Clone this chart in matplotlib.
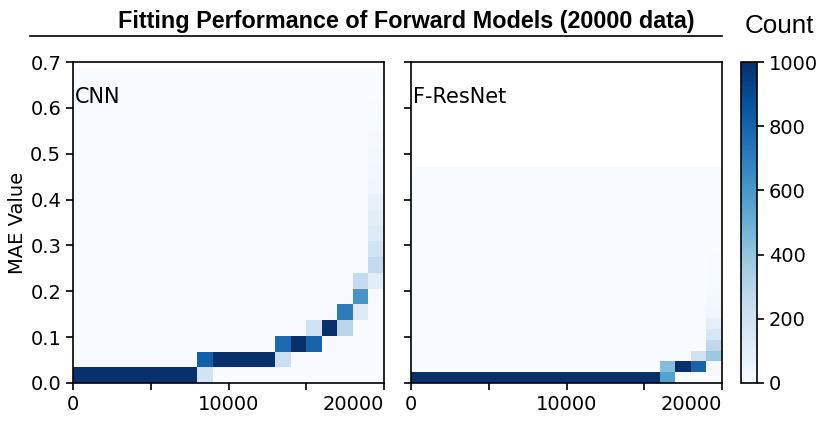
import numpy as np
import matplotlib
matplotlib.use('Agg')
import matplotlib.pyplot as plt
from matplotlib.lines import Line2D

plt.rcParams['font.family'] = ['DejaVu Sans']

# 20000 samples sorted by MAE, 20 x-bins (1000 samples each) and 20 y-bins
n_samples = 20000
n_bins = 20

# CNN: (x-bin, y-bin, count) for the non-empty cells
cnn_col = [0, 1, 2, 3, 4, 5, 6, 7, 8, 8, 9, 10, 11, 12, 13, 13, 14, 15, 15, 16,
           17, 17, 18, 18, 18, 19, 19, 19, 19, 19, 19, 19, 19, 19, 19, 19, 19, 19, 19]
cnn_row = [0, 0, 0, 0, 0, 0, 0, 0, 0, 1, 1, 1, 1, 1, 1, 2, 2, 2, 3, 3,
           3, 4, 4, 5, 6, 6, 7, 8, 9, 10, 11, 12, 13, 14, 15, 16, 17, 18, 19]
cnn_count = [1000, 1000, 1000, 1000, 1000, 1000, 1000, 1000, 180, 820, 1000, 1000, 1000, 1000,
             220, 780, 1000, 800, 200, 1000, 290, 710, 140, 610, 250,
             110, 260, 190, 140, 100, 75, 40, 30, 20, 15, 10, 5, 3, 2]
cnn_mae_max = 0.686

# F-ResNet
res_col = [0, 1, 2, 3, 4, 5, 6, 7, 8, 9, 10, 11, 12, 13, 14, 15, 16, 16, 17, 18, 18,
           19, 19, 19, 19, 19, 19, 19, 19, 19, 19, 19, 19, 19, 19, 19, 19, 19, 19]
res_row = [0, 0, 0, 0, 0, 0, 0, 0, 0, 0, 0, 0, 0, 0, 0, 0, 0, 1, 1, 1, 2,
           2, 3, 4, 5, 6, 7, 8, 9, 10, 11, 12, 13, 14, 15, 16, 17, 18, 19]
res_count = [1000] * 16 + [560, 440, 1000, 800, 200,
                           380, 270, 160, 90, 40, 20, 12, 8, 5, 4, 3, 2, 1, 1, 1, 1, 1, 1]
res_mae_max = 0.471

panels = [('CNN', cnn_col, cnn_row, cnn_count, cnn_mae_max),
          ('F-ResNet', res_col, res_row, res_count, res_mae_max)]

W, H = 830, 425
fig = plt.figure(figsize=(W / 100, H / 100), dpi=100)


def px_axes(left, top, right, bottom):
    return fig.add_axes([left / W, 1 - bottom / H, (right - left) / W, (bottom - top) / H])


axes = [px_axes(73, 62, 384, 383), px_axes(411, 62, 722, 383)]
cax = px_axes(741, 62, 757, 383)

mesh = None
for ax, (name, cols, rows, counts, mae_max) in zip(axes, panels):
    grid = np.zeros((n_bins, n_bins))
    for c, r, v in zip(cols, rows, counts):
        grid[r, c] = v
    xedges = np.linspace(0, n_samples, n_bins + 1)
    yedges = np.linspace(0, mae_max, n_bins + 1)
    mesh = ax.pcolormesh(xedges, yedges, grid, cmap='Blues', vmin=0, vmax=1000)
    ax.set_xlim(0, n_samples)
    ax.set_ylim(0, 0.7)
    ax.set_xticks([0, 5000, 10000, 15000, 20000])
    ax.set_xticklabels(['0', '', '10000', '', '20000'])
    # last label sits left of its tick so it clears the next panel
    ax.get_xticklabels()[-1].set_horizontalalignment('right')
    ax.set_yticks(np.arange(0, 0.71, 0.1))
    ax.tick_params(labelsize=14, length=5, width=1.2)
    for s in ax.spines.values():
        s.set_linewidth(1.2)
    ax.text(0.006, 0.891, name, transform=ax.transAxes, fontsize=15,
            ha='left', va='center')

axes[0].set_yticklabels(['%.1f' % v for v in np.arange(0, 0.71, 0.1)])
axes[0].set_ylabel('MAE Value', fontsize=14, labelpad=2)
axes[1].set_yticklabels([])

cb = fig.colorbar(mesh, cax=cax, ticks=[0, 200, 400, 600, 800, 1000])
cb.ax.tick_params(labelsize=14, length=5, width=1.2)
cb.outline.set_linewidth(1.2)

fig.text(745 / W, 1 - 33 / H, 'Count', fontsize=18.7, family='Liberation Sans',
         ha='left', va='baseline')
fig.text(406 / W, 1 - 28 / H, 'Fitting Performance of Forward Models (20000 data)',
         fontsize=16.8, family='Liberation Sans', fontweight='bold',
         ha='center', va='baseline')
fig.add_artist(Line2D([30 / W, 722 / W], [1 - 36 / H, 1 - 36 / H],
                      color='black', linewidth=1.2))

fig.savefig('out.png', dpi=100)
